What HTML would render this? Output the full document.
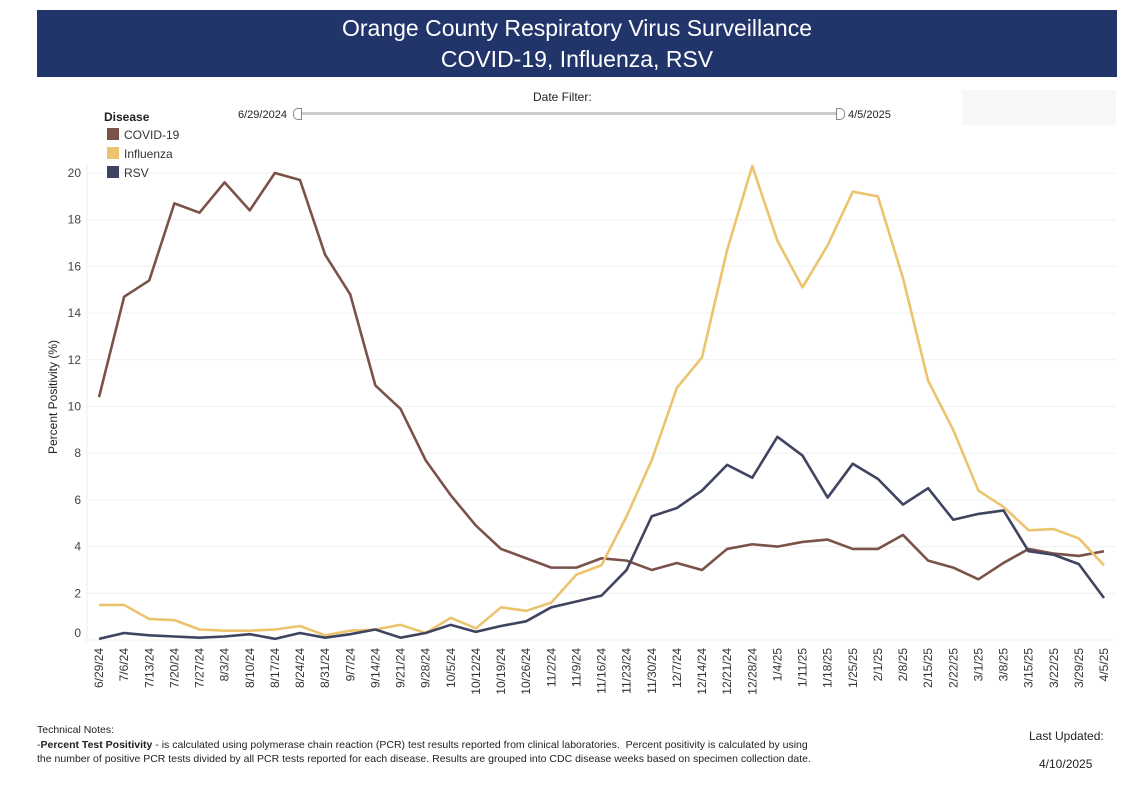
<!DOCTYPE html>
<html><head><meta charset="utf-8"><style>
body{margin:0;background:#fff;font-family:"Liberation Sans",sans-serif;}
.wrap{position:relative;width:1123px;height:793px;overflow:hidden;}
.hdr{position:absolute;left:37px;top:10px;width:1080px;height:67px;background:#22356b;color:#fff;text-align:center;font-size:23px;line-height:31px;padding-top:3px;box-sizing:border-box;}
.t{position:absolute;font-size:11px;color:#222;}
</style></head><body>
<div class="wrap">
<div class="hdr">Orange County Respiratory Virus Surveillance<br>COVID-19, Influenza, RSV</div>
<div class="t" style="left:533px;top:90px;font-size:12px">Date Filter:</div>
<div class="t" style="left:238px;top:109px">6/29/2024</div>
<div style="position:absolute;left:298px;top:112px;width:542px;height:3px;background:#ccc"></div>
<div style="position:absolute;left:293px;top:108px;width:7px;height:10px;border:1px solid #888;border-radius:5px 0 0 5px;background:#fff"></div>
<div style="position:absolute;left:836px;top:108px;width:7px;height:10px;border:1px solid #888;border-radius:0 5px 5px 0;background:#fff"></div>
<div class="t" style="left:848px;top:109px">4/5/2025</div>
<div style="position:absolute;left:962px;top:90px;width:154px;height:35px;background:#f7f7f7"></div>
<svg id="chart" width="1123" height="793" style="position:absolute;left:0;top:0"></svg>
<div class="t" style="left:37px;top:724px;font-size:10.5px">Technical Notes:</div>
<div class="t" style="left:37px;top:738px;line-height:14px;font-size:10.5px">-<b>Percent Test Positivity</b> - is calculated using polymerase chain reaction (PCR) test results reported from clinical laboratories.&nbsp; Percent positivity is calculated by using<br>the number of positive PCR tests divided by all PCR tests reported for each disease. Results are grouped into CDC disease weeks based on specimen collection date.</div>
<div class="t" style="left:1029px;top:729px;font-size:12px">Last Updated:</div>
<div class="t" style="left:1039px;top:757px;font-size:12px">4/10/2025</div>
</div>
<script>
const categories=["6/29/24","7/6/24","7/13/24","7/20/24","7/27/24","8/3/24","8/10/24","8/17/24","8/24/24","8/31/24","9/7/24","9/14/24","9/21/24","9/28/24","10/5/24","10/12/24","10/19/24","10/26/24","11/2/24","11/9/24","11/16/24","11/23/24","11/30/24","12/7/24","12/14/24","12/21/24","12/28/24","1/4/25","1/11/25","1/18/25","1/25/25","2/1/25","2/8/25","2/15/25","2/22/25","3/1/25","3/8/25","3/15/25","3/22/25","3/29/25","4/5/25"];
const covid=[10.4,14.7,15.4,18.7,18.3,19.6,18.4,20.0,19.7,16.5,14.8,10.9,9.9,7.7,6.2,4.9,3.9,3.5,3.1,3.1,3.5,3.4,3.0,3.3,3.0,3.9,4.1,4.0,4.2,4.3,3.9,3.9,4.5,3.4,3.1,2.6,3.3,3.9,3.7,3.6,3.8];
const flu=[1.5,1.5,0.9,0.85,0.45,0.4,0.4,0.45,0.6,0.2,0.4,0.45,0.65,0.3,0.95,0.5,1.4,1.25,1.6,2.8,3.2,5.3,7.7,10.8,12.1,16.7,20.3,17.1,15.1,16.9,19.2,19.0,15.5,11.1,9.0,6.4,5.7,4.7,4.75,4.35,3.2];
const rsv=[0.05,0.3,0.2,0.15,0.1,0.15,0.25,0.05,0.3,0.1,0.25,0.45,0.1,0.3,0.65,0.35,0.6,0.8,1.4,1.65,1.9,3.0,5.3,5.65,6.4,7.5,6.95,8.7,7.9,6.1,7.55,6.9,5.8,6.5,5.15,5.4,5.55,3.8,3.65,3.25,1.8];
const yTicks=[0,2,4,6,8,10,12,14,16,18,20];
const NS="http://www.w3.org/2000/svg";
const svg=document.getElementById('chart');
const x=i=>99+i*(1104-99)/(categories.length-1);
const y=v=>640-v*23.35;
function mk(t,a){const e=document.createElementNS(NS,t);for(const k in a)e.setAttribute(k,a[k]);svg.appendChild(e);return e;}
yTicks.forEach(v=>{
  const g=mk('line',{x1:87,x2:1116,y1:y(v),y2:y(v),stroke:'#f0f0f0','stroke-width':1});
  
  
  const t=mk('text',{x:81,y:(v===0?y(v)-3:y(v)+4),'text-anchor':'end','font-size':12,fill:'#444','font-family':'Liberation Sans'});
  t.textContent=v;
  
  
});
const ax=mk('line',{x1:87,x2:87,y1:165,y2:642,stroke:'#eee'});


const yt=mk('text',{x:0,y:0,transform:'translate(57,397) rotate(-90)','text-anchor':'middle','font-size':12,fill:'#222','font-family':'Liberation Sans'});
yt.textContent='Percent Positivity (%)';


categories.forEach((c,i)=>{
  const t=mk('text',{x:0,y:0,transform:`translate(${x(i)+4},648) rotate(-90)`,'text-anchor':'end','font-size':12,fill:'#333','font-family':'Liberation Sans'});
  t.textContent=c;
  
  
});
[[covid,'#7b5249','covid-line'],[flu,'#ecc46e','influenza-line'],[rsv,'#3f4560','rsv-line']].forEach(([d,col,n])=>{
  const p=mk('polyline',{points:d.map((v,i)=>x(i)+','+y(v)).join(' '),fill:'none',stroke:col,'stroke-width':2.6,'stroke-linejoin':'round'});
  
  
});
const lt=mk('text',{x:104,y:121,'font-size':12,'font-weight':'bold',fill:'#222','font-family':'Liberation Sans'});
lt.textContent='Disease';


[['COVID-19','#7b5249'],['Influenza','#ecc46e'],['RSV','#3f4560']].forEach(([n,c],i)=>{
  const r=mk('rect',{x:107,y:128+i*19,width:12,height:12,fill:c});
  
  
  const t=mk('text',{x:124,y:139+i*19,'font-size':12,fill:'#333','font-family':'Liberation Sans'});
  t.textContent=n;
  
  
});
</script>
</body></html>
